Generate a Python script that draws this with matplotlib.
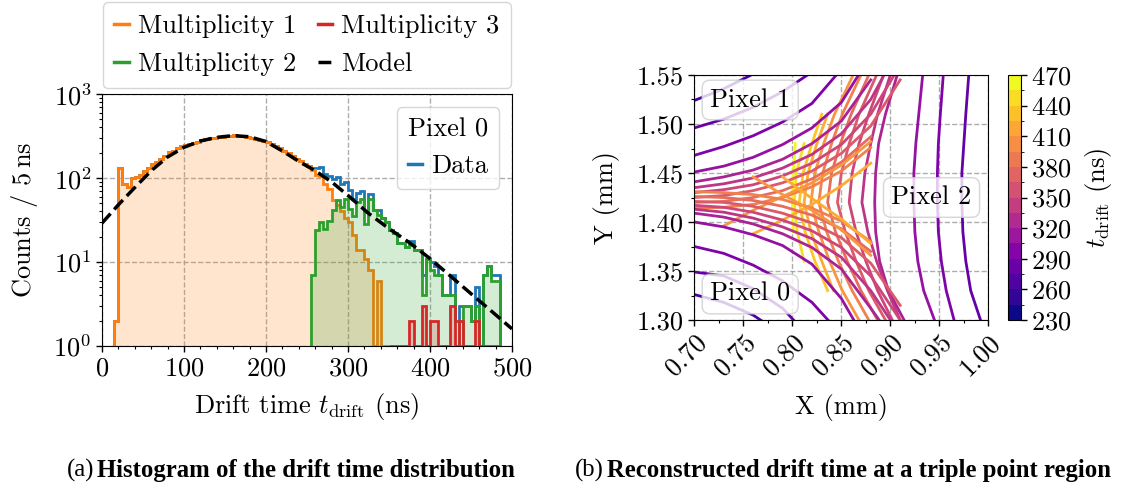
import numpy as np
import matplotlib
matplotlib.use("Agg")
import matplotlib.pyplot as plt
import matplotlib.ticker as mticker
from matplotlib.lines import Line2D
from matplotlib.colors import Normalize, BoundaryNorm
from matplotlib.cm import ScalarMappable

plt.rcParams["font.family"] = ["cmr10", "DejaVu Serif"]
plt.rcParams["mathtext.fontset"] = "cm"
plt.rcParams["axes.formatter.use_mathtext"] = True
plt.rcParams["axes.unicode_minus"] = False
plt.rcParams["font.size"] = 19

# ---------------- histogram data (5 ns bins) ----------------
BIN = 5
m1_start = 15
m1_counts = [2, 130, 85, 78, 100, 104, 110, 120, 132, 148,
             155, 170, 185, 205, 212, 225, 238, 250, 256, 258,
             270, 283, 290, 296, 302, 306, 312, 318, 315, 322,
             318, 316, 306, 300, 292, 285, 276, 268, 255, 240,
             228, 212, 196, 183, 170, 158, 147, 138, 124, 109,
             105, 86, 75, 55, 48, 40, 33, 30, 21, 14,
             14, 11, 8, 0, 6, 0, 0]

m2_start = 255
m2_counts = [7, 24, 30, 25, 31, 42, 55, 45, 57, 43,
             35, 52, 57, 28, 57, 42, 36, 33, 30, 24,
             22, 17, 17, 15, 16, 14, 14, 4, 11, 8,
             7, 7, 4, 4, 4, 2, 1, 3, 3, 2,
             3, 0, 7, 9, 6, 6]

m3_start = 350
m3_counts = [0, 0, 0, 0, 0, 2, 0, 0, 3, 0,
             2, 2, 0, 0, 0, 3, 0, 2, 0, 0,
             0, 2, 0, 0, 0, 1, 1]

model_t = [0, 20, 40, 60, 80, 100, 120, 140, 160, 180, 200, 220,
           240, 260, 280, 300, 325, 350, 375, 400, 425, 450, 475, 500]
model_val = [29, 48, 77, 122, 178, 232, 276, 305, 320, 310, 272, 210,
             158, 122, 90, 62, 38, 25, 17, 11, 6.8, 4.2, 2.6, 1.6]

# ---------------- contour data (drift time levels, ns) ----------------
nan = np.nan
# pixel 2: x position of each contour at fixed y values
p2_y = [1.30, 1.33, 1.36, 1.39, 1.42, 1.45, 1.48, 1.51, 1.55]
p2_levels = [275, 290, 305, 320, 335, 350, 365, 380, 395, 410, 425, 440, 455, 470]
p2_x = [
    [0.992, 0.982, 0.977, 0.974, 0.973, 0.973, 0.975, 0.977, 0.980],
    [0.965, 0.957, 0.952, 0.949, 0.948, 0.948, 0.949, 0.951, 0.954],
    [0.945, 0.934, 0.928, 0.925, 0.924, 0.924, 0.926, 0.929, 0.933],
    [0.914, 0.898, 0.889, 0.885, 0.884, 0.885, 0.888, 0.895, 0.907],
    [0.910, 0.897, 0.886, 0.877, 0.871, 0.874, 0.880, 0.887, 0.900],
    [0.902, 0.887, 0.875, 0.865, 0.858, 0.861, 0.868, 0.878, 0.893],
    [0.895, 0.878, 0.865, 0.854, 0.846, 0.850, 0.858, 0.868, 0.886],
    [0.887, 0.870, 0.856, 0.844, 0.836, 0.840, 0.849, 0.860, 0.878],
    [0.878, 0.861, 0.847, 0.835, 0.827, 0.831, 0.840, 0.851, 0.870],
    [0.868, 0.851, 0.838, 0.827, 0.819, 0.823, 0.832, 0.843, 0.862],
    [nan, 0.842, 0.830, 0.819, 0.812, 0.816, 0.825, 0.836, nan],
    [nan, 0.836, 0.823, 0.813, 0.807, 0.811, 0.820, 0.830, nan],
    [nan, nan, 0.812, 0.805, 0.802, 0.804, 0.812, nan, nan],
    [nan, nan, nan, 0.801, 0.800, 0.801, 0.803, nan, nan],
]

# pixels 0 and 1: y position of each contour at fixed x values
p01_x = [0.70, 0.73, 0.76, 0.79, 0.82, 0.85, 0.88, 0.91]
p1_levels = [260, 275, 290, 305, 320, 335, 350, 365, 380, 395, 410, 425]
p1_y = [
    [1.524, 1.536, 1.551, 1.570, nan, nan, nan, nan],
    [1.496, 1.505, 1.517, 1.533, 1.553, nan, nan, nan],
    [1.468, 1.477, 1.488, 1.502, 1.521, 1.556, nan, nan],
    [1.451, 1.457, 1.466, 1.479, 1.496, 1.522, 1.570, nan],
    [1.441, 1.446, 1.453, 1.464, 1.480, 1.503, 1.545, nan],
    [1.435, 1.439, 1.445, 1.455, 1.469, 1.490, 1.525, 1.580],
    [1.430, 1.433, 1.438, 1.447, 1.460, 1.479, 1.510, 1.560],
    [1.425, 1.427, 1.432, 1.440, 1.452, 1.470, 1.498, 1.545],
    [1.420, 1.421, 1.425, 1.432, 1.444, 1.461, 1.487, nan],
    [1.414, 1.415, 1.418, 1.425, 1.436, 1.452, 1.476, nan],
    [nan, 1.396, 1.412, 1.426, 1.440, 1.458, 1.482, nan],
    [nan, nan, 1.388, 1.402, 1.418, 1.437, 1.460, nan],
]
p0_levels = [260, 275, 290, 305, 320, 335, 350, 365, 380, 395, 410, 425]
p0_y = [
    [1.326, 1.318, 1.305, 1.285, nan, nan, nan, nan],
    [1.349, 1.345, 1.332, 1.312, 1.280, nan, nan, nan],
    [1.375, 1.368, 1.356, 1.340, 1.318, 1.285, nan, nan],
    [1.400, 1.395, 1.387, 1.376, 1.357, 1.322, 1.270, nan],
    [1.409, 1.405, 1.398, 1.388, 1.374, 1.352, 1.312, 1.270],
    [1.413, 1.410, 1.404, 1.395, 1.383, 1.364, 1.330, 1.285],
    [1.417, 1.415, 1.410, 1.402, 1.391, 1.374, 1.345, 1.300],
    [1.421, 1.420, 1.416, 1.409, 1.399, 1.384, 1.358, 1.315],
    [1.426, 1.425, 1.422, 1.416, 1.407, 1.393, 1.370, nan],
    [1.431, 1.430, 1.428, 1.423, 1.414, 1.401, 1.380, nan],
    [nan, nan, 1.446, 1.428, 1.412, 1.392, 1.366, nan],
    [nan, nan, nan, 1.446, 1.424, 1.403, 1.378, nan],
]

C1, C2, C3, CD = "#ff7f0e", "#2ca02c", "#d62728", "#1f77b4"

fig = plt.figure(figsize=(11.23, 4.95), dpi=100)

# ================= left panel: histogram =================
ax = fig.add_axes([0.0908, 0.301, 0.3651, 0.509])

nb = 100
total = np.zeros(nb)
for s, c in [(m1_start, m1_counts), (m2_start, m2_counts), (m3_start, m3_counts)]:
    i0 = s // BIN
    total[i0:i0 + len(c)] += np.array(c, float)
d_start = m1_start
d_counts = total[d_start // BIN:(m2_start // BIN) + len(m2_counts)]


def draw_hist(start, counts, color, fill, z):
    e = start + BIN * np.arange(len(counts) + 1)
    v = np.clip(np.asarray(counts, float), 1, None)
    if fill:
        ax.stairs(v, e, baseline=1, fill=True, color=color, alpha=0.2, lw=0, zorder=z)
    ax.stairs(v, e, baseline=1, color=color, lw=2, zorder=z + 0.1)


draw_hist(d_start, d_counts, CD, False, 2)
draw_hist(m1_start, m1_counts, C1, True, 2.2)
draw_hist(m2_start, m2_counts, C2, True, 2.4)
draw_hist(m3_start, m3_counts, C3, True, 2.6)
ax.plot(model_t, model_val, color="black", ls="--", lw=2.5, zorder=3)

ax.set_yscale("log")
ax.set_xlim(0, 500)
ax.set_ylim(1, 1000)
ax.xaxis.set_minor_locator(mticker.MultipleLocator(20))
ax.tick_params(which="major", direction="out", length=4, width=1)
ax.tick_params(which="minor", direction="out", length=2.5, width=0.8)
ax.grid(True, which="major", ls="--", color="0.6", alpha=0.8, lw=1)
ax.set_xlabel("Drift time $t_\\mathrm{drift}$ (ns)", labelpad=8)
ax.set_ylabel("Counts / 5$\\,$ns", labelpad=10)

leg_top = ax.legend(
    handles=[Line2D([], [], color=C1, lw=2.5), Line2D([], [], color=C2, lw=2.5),
             Line2D([], [], color=C3, lw=2.5), Line2D([], [], color="black", lw=2.5, ls="--")],
    labels=["Multiplicity 1", "Multiplicity 2", "Multiplicity 3", "Model"],
    ncol=2, loc="lower center", bbox_to_anchor=(0.5, 1.024), borderaxespad=0,
    handlelength=0.55, handletextpad=0.35, columnspacing=0.8, borderpad=0.45,
    labelspacing=0.55)
ax.add_artist(leg_top)
ax.legend(handles=[Line2D([], [], color=CD, lw=2.5)], labels=["Data"], title="Pixel 0",
          loc="upper right", handlelength=0.55, handletextpad=0.35, borderpad=0.4,
          title_fontsize=19)

# ================= right panel: drift time contours =================
ax2 = fig.add_axes([0.6183, 0.3535, 0.2618, 0.495])
cmap = plt.get_cmap("plasma")
lnorm = Normalize(230, 470)

for lev, xs in zip(p2_levels, p2_x):
    ax2.plot(xs, p2_y, color=cmap(lnorm(lev)), lw=2, zorder=2)
for lev, ys in zip(p1_levels, p1_y):
    ax2.plot(p01_x, ys, color=cmap(lnorm(lev)), lw=2, zorder=2)
for lev, ys in zip(p0_levels, p0_y):
    ax2.plot(p01_x, ys, color=cmap(lnorm(lev)), lw=2, zorder=2)

ax2.set_xlim(0.70, 1.00)
ax2.set_ylim(1.30, 1.55)
ax2.xaxis.set_major_locator(mticker.MultipleLocator(0.05))
ax2.xaxis.set_minor_locator(mticker.MultipleLocator(0.025))
ax2.yaxis.set_major_locator(mticker.MultipleLocator(0.05))
ax2.yaxis.set_minor_locator(mticker.MultipleLocator(0.025))
ax2.xaxis.set_major_formatter(mticker.FormatStrFormatter("%.2f"))
ax2.yaxis.set_major_formatter(mticker.FormatStrFormatter("%.2f"))
ax2.tick_params(which="major", direction="out", length=4, width=1)
ax2.tick_params(which="minor", direction="out", length=2.5, width=0.8)
for lab in ax2.get_xticklabels():
    lab.set_rotation(45)
    lab.set_ha("right")
    lab.set_rotation_mode("anchor")
ax2.grid(True, which="major", ls="--", color="0.6", alpha=0.8, lw=1, zorder=0)
ax2.set_axisbelow(True)
ax2.set_xlabel("X (mm)", labelpad=10)
ax2.set_ylabel("Y (mm)", labelpad=12)

box = dict(boxstyle="round,pad=0.3", fc="white", ec="0.8", alpha=0.8)
ax2.text(0.757, 1.5245, "Pixel 1", ha="center", va="center", bbox=box, zorder=5)
ax2.text(0.757, 1.3265, "Pixel 0", ha="center", va="center", bbox=box, zorder=5)
ax2.text(0.942, 1.425, "Pixel 2", ha="center", va="center", bbox=box, zorder=5)

cax = fig.add_axes([0.8976, 0.3535, 0.0116, 0.495])
sm = ScalarMappable(norm=BoundaryNorm(np.arange(230, 471, 15), 256), cmap=cmap)
cb = fig.colorbar(sm, cax=cax, ticks=np.arange(230, 471, 30))
cb.set_label("$t_\\mathrm{drift}$ (ns)", labelpad=8)
cax.tick_params(direction="out", length=4, width=1)

# ================= captions =================
cap = dict(va="center", family="Liberation Serif", size=17.8)
fig.text(0.0840, 0.05, "(a)", ha="right", **cap)
fig.text(0.0868, 0.05, "Histogram of the drift time distribution", ha="left",
         weight="bold", **cap)
fig.text(0.5375, 0.05, "(b)", ha="right", **cap)
fig.text(0.5403, 0.05, "Reconstructed drift time at a triple point region", ha="left",
         weight="bold", **cap)

fig.savefig("out.png", dpi=100)
